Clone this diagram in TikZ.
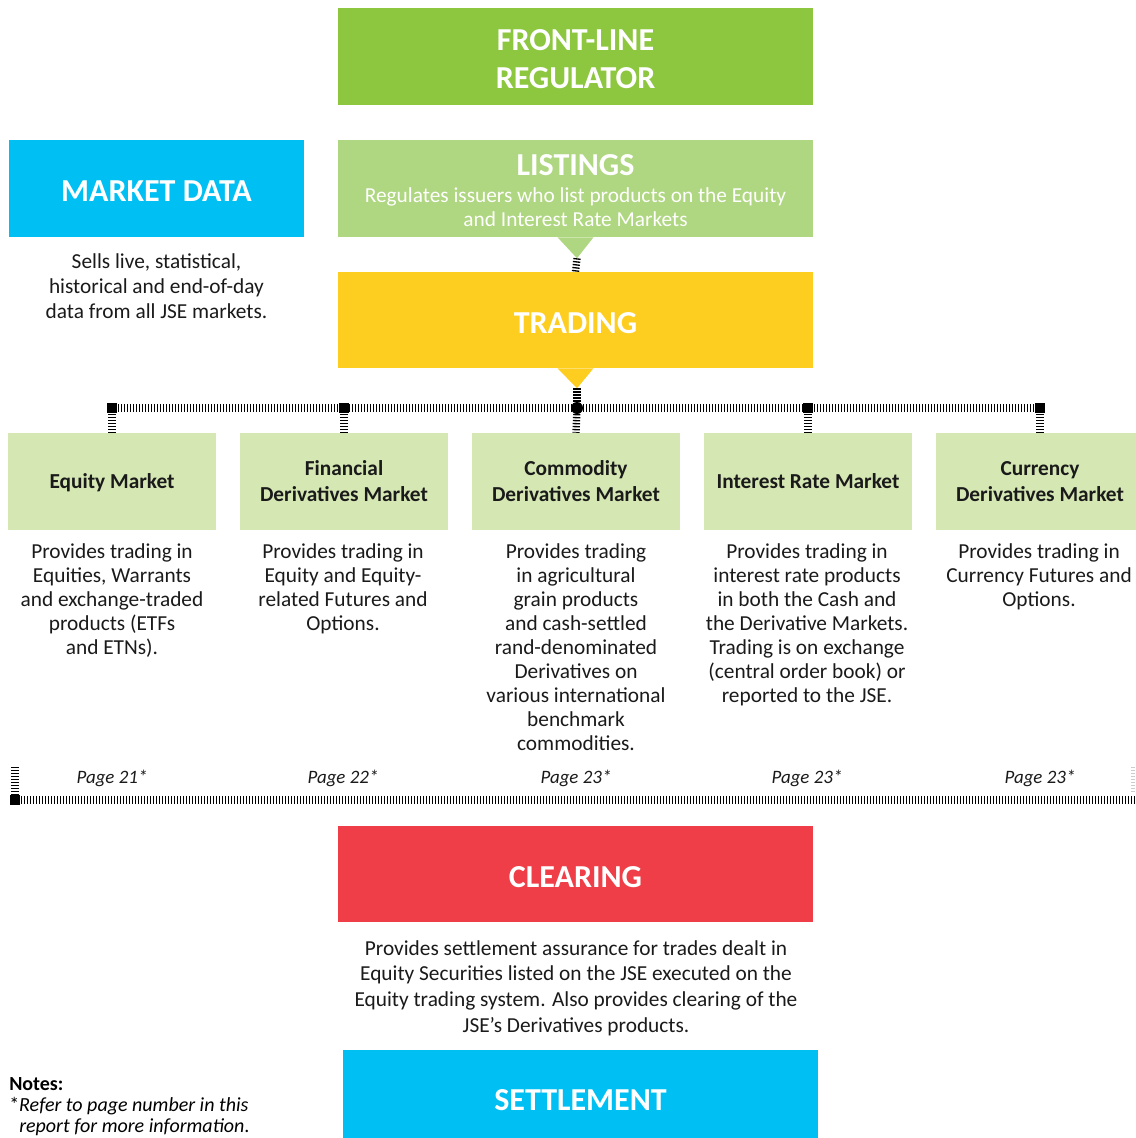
\documentclass[tikz,border=0pt]{standalone}
\usepackage{fontspec}
\setmainfont{Carlito}
\usepackage{xcolor}
\usepackage{tikz}
\usetikzlibrary{positioning,calc}

\definecolor{regulgreen}{HTML}{8DC63F}
\definecolor{listgreen}{HTML}{AFD680}
\definecolor{mktgreen}{HTML}{D5E8B4}
\definecolor{tradeyellow}{HTML}{FDCD1F}
\definecolor{clearred}{HTML}{EF3E48}
\definecolor{datacyan}{HTML}{00BFF3}
\definecolor{bodytext}{HTML}{1A1A1A}

% titles sit a little low in their boxes
\newcommand{\titledrop}[2][1.9pt]{\raisebox{-#1}[\height][0pt]{#2}}

\begin{document}
\begin{tikzpicture}[x=0.75pt, y=-0.75pt,
    bigbox/.style={rectangle, inner sep=0pt, minimum width=356.25pt, minimum height=72.75pt,
                   text=white, align=center, font=\fontsize{24}{28.5}\selectfont\bfseries},
    mktbox/.style={rectangle, fill=mktgreen, inner sep=0pt, minimum width=156pt, minimum height=72.75pt, text depth=0pt,
                   text=bodytext, align=center, font=\fontsize{16}{19.5}\selectfont\bfseries},
    desc/.style={anchor=north, inner sep=0pt, align=center, text=bodytext,
                 font=\fontsize{16}{18}\selectfont},
    pagelbl/.style={anchor=base, inner sep=0pt, text=bodytext, font=\fontsize{14.2}{16}\selectfont\itshape},
    ladder/.style={line width=5.5pt, dash pattern=on 1pt off 1.25pt},
    joint/.style={rectangle, fill=black, inner sep=0pt, minimum size=7.5pt}]
        \useasboundingbox (0,0) rectangle (1135,1138);

        % top of the chart
        \node [bigbox, fill=regulgreen] (front) at (575.5,56.5)
              {\titledrop[2.25pt]{FRONT-LINE}\\\titledrop[2.25pt]{REGULATOR}};
        \node [bigbox, fill=datacyan, minimum width=221.25pt] (mdata) at (156.5,188.5) {\titledrop[2.25pt]{MARKET DATA}};
        \node [desc, font=\fontsize{16}{18.75}\selectfont] (mdatatxt) at (156.5,253)
              {Sells live, statistical,\\historical and end-of-day\\data from all JSE markets.};

        \node [bigbox, fill=listgreen] (listings) at (575.5,188.5) {};
        \node [anchor=base, inner sep=0pt, text=white, font=\fontsize{24}{28.5}\selectfont\bfseries]
              (listtitle) at (575.5,175) {LISTINGS};
        \node [desc, text=white] (listtxt) at (575.5,187.5)
              {Regulates issuers who list products on the Equity\\and Interest Rate Markets};
        \fill [listgreen] ($(listings.south)+(-18,0)$) -- ($(listings.south)+(18,0)$)
              -- ($(listings.south)+(1.5,21)$) coordinate (ltip) -- cycle;

        \node [bigbox, fill=tradeyellow, minimum height=72pt] (trading) at (575.5,320) {\titledrop{TRADING}};
        \fill [tradeyellow] ($(trading.south)+(-18,0)$) -- ($(trading.south)+(18,0)$)
              -- ($(trading.south)+(1.5,20)$) coordinate (ttip) -- cycle;

        % markets
        \node [mktbox] (eqm)  at (112,481.5)  {Equity Market};
        \node [mktbox] (fdm)  at (344,481.5)  {Financial\\Derivatives Market};
        \node [mktbox] (cdm)  at (576,481.5)  {Commodity\\Derivatives Market};
        \node [mktbox] (irm)  at (808,481.5)  {Interest Rate Market};
        \node [mktbox] (cudm) at (1040,481.5) {Currency\\Derivatives Market};

        \node [desc] (eqmtxt)  at (112,543.5)  {Provides trading in\\Equities, Warrants\\and exchange-traded\\products (ETFs\\and ETNs).};
        \node [desc] (fdmtxt)  at (343,543.5)  {Provides trading in\\Equity and Equity-\\related Futures and\\Options.};
        \node [desc] (cdmtxt)  at (576,543.5)  {Provides trading\\in agricultural\\grain products\\and cash-settled\\rand-denominated\\Derivatives on\\various international\\benchmark\\commodities.};
        \node [desc] (irmtxt)  at (807,543.5)  {Provides trading in\\interest rate products\\in both the Cash and\\the Derivative Markets.\\Trading is on exchange\\(central order book) or\\reported to the JSE.};
        \node [desc] (cudmtxt) at (1039,543.5) {Provides trading in\\Currency Futures and\\Options.};

        \node [pagelbl] (pg1) at (112,783) {Page 21*};
        \node [pagelbl] (pg2) at (343,783) {Page 22*};
        \node [pagelbl] (pg3) at (576,783) {Page 23*};
        \node [pagelbl] (pg4) at (807,783) {Page 23*};
        \node [pagelbl] (pg5) at (1040,783) {Page 23*};

        % connectors
        \coordinate (j1) at (eqm.north |- 0,408);
        \coordinate (j2) at (fdm.north |- 0,408);
        \coordinate (j3) at (577,408);
        \coordinate (j4) at (irm.north |- 0,408);
        \coordinate (j5) at (cudm.north |- 0,408);

        \draw [ladder] (ltip) -- (trading.north);
        \draw [ladder] (ttip) -- (j3);
        \draw [ladder] (j1) -- (j5);
        \draw [ladder] (j1) -- (eqm.north);
        \draw [ladder] (j2) -- (fdm.north);
        \draw [ladder] (j3) -- (cdm.north);
        \draw [ladder] (j4) -- (irm.north);
        \draw [ladder] (j5) -- (cudm.north);
        \node [joint] (sq1) at (j1) {};
        \node [joint] (sq2) at (j2) {};
        \node [joint, circle, minimum size=9pt] (hub) at (j3) {};
        \node [joint] (sq4) at (j4) {};
        \node [joint] (sq5) at (j5) {};

        \coordinate (railtop) at (15,767);
        \coordinate (railleft) at (15,800);
        \coordinate (railright) at (1135,800);
        \draw [ladder] (railtop) -- (railleft);
        \draw [ladder] (railleft) -- (railright);
        \draw [ladder, black!20, line width=3pt] (1133,767) -- (1133,793);
        \node [joint] (sq6) at (railleft) {};

        % bottom of the chart
        \node [bigbox, fill=clearred, minimum height=72pt] (clearing) at (575.5,874) {\titledrop{CLEARING}};
        \node [desc, font=\fontsize{16}{19.3}\selectfont] (cleartxt) at (576,940)
              {Provides settlement assurance for trades dealt in\\Equity Securities listed on the JSE executed on the\\Equity trading system. Also provides clearing of the\\JSE’s Derivatives products.};
        \node [bigbox, fill=datacyan] (settle) at (580.5,1098.5) {\titledrop[0.8pt]{SETTLEMENT}};

        \node [anchor=north west, inner sep=0pt, align=left, text=black,
               font=\fontsize{15}{15.75}\selectfont] (notes) at (9,1077)
              {\textbf{Notes:}\\*\textit{Refer to page number in this}\\\hspace*{7.5pt}\textit{report for more information}.};
\end{tikzpicture}
\end{document}
